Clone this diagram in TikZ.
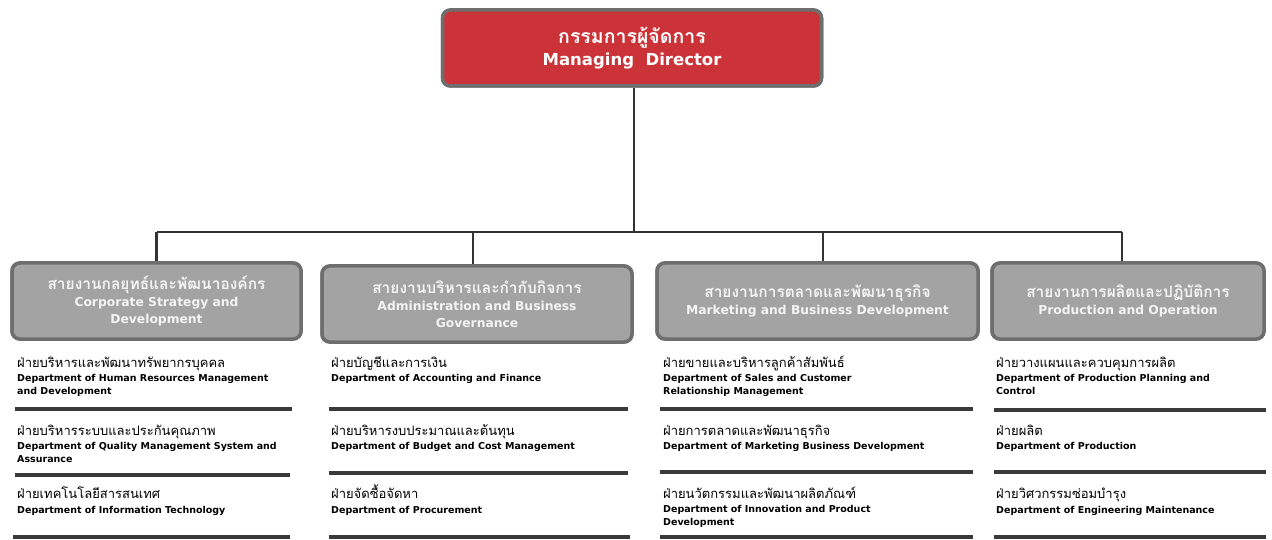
\documentclass[tikz,border=0pt]{standalone}
\usepackage{fontspec}
\setmainfont{DejaVu Sans}
\newfontfamily\eng{DejaVu Sans}
\newfontfamily\thai[Script=Thai]{Loma}
\definecolor{mdred}{HTML}{CC3338}
\definecolor{boxborder}{HTML}{6E6E6E}
\definecolor{grpfill}{HTML}{A3A3A3}
\definecolor{grptext}{HTML}{F4F4F4}
\definecolor{linecol}{HTML}{333333}
\definecolor{sepcol}{HTML}{3A3A3A}
\newcommand{\grpthai}{\thai\bfseries\fontsize{15.5}{17}\selectfont}
\tikzset{
  box/.style={draw=boxborder, line width=3.5pt, rounded corners=8pt, inner sep=0pt, align=center},
  mdbox/.style={box, fill=mdred, text=white, minimum width=379pt, minimum height=76pt, font=\eng\bfseries\fontsize{16.5}{22}\selectfont},
  grp/.style={box, fill=grpfill, text=grptext, minimum height=76pt, font=\eng\bfseries\fontsize{12.3}{17}\selectfont},
  conn/.style={draw=linecol, line width=2.5pt},
  sepline/.style={draw=sepcol, line width=4pt},
  thaidept/.style={anchor=base west, inner sep=0pt, text=black, font=\thai\fontsize{13}{14}\selectfont},
  engdept/.style={anchor=base west, inner sep=0pt, align=left, text=black, font=\eng\bfseries\fontsize{9.5}{13.5}\selectfont},
}
\begin{document}
\begin{tikzpicture}[x=1pt,y=-1pt]
\useasboundingbox (0,0) rectangle (1272,540);
\coordinate (bus) at (0,232);
\node[mdbox] (md) at (632,48) {};
\node[grp, minimum width=289pt] (g1) at (156.5,301) {};
\node[grp, minimum width=310pt] (g2) at (477,304) {};
\node[grp, minimum width=321pt] (g3) at (817.5,301) {};
\node[grp, minimum width=272pt] (g4) at (1128,301) {};
\draw[conn] ([xshift=2pt]md.south) -- ([xshift=2pt]md.south |- bus);
\draw[conn] ([xshift=0pt]g1.north |- bus) -- ([xshift=-6pt]g4.north |- bus);
\draw[conn] (g1.north) -- (g1.north |- bus);
\draw[conn] ([xshift=-4pt]g2.north) -- ([xshift=-4pt]g2.north |- bus);
\draw[conn] ([xshift=5.5pt]g3.north) -- ([xshift=5.5pt]g3.north |- bus);
\draw[conn] ([xshift=-6pt]g4.north) -- ([xshift=-6pt]g4.north |- bus);
\node[mdbox] (md) at (632,48) {\thai\bfseries\fontsize{19.5}{22}\selectfont กรรมการผู้จัดการ\\ Managing~~Director};
\node[grp, minimum width=289pt] (g1) at (156.5,301) {\grpthai สายงานกลยุทธ์และพัฒนาองค์กร\\ Corporate Strategy and\\ Development};
\node[grp, minimum width=310pt] (g2) at (477,304) {\grpthai สายงานบริหารและกำกับกิจการ\\ Administration and Business\\ Governance};
\node[grp, minimum width=321pt] (g3) at (817.5,301) {\grpthai สายงานการตลาดและพัฒนาธุรกิจ\\ Marketing and Business Development};
\node[grp, minimum width=272pt] (g4) at (1128,301) {\grpthai สายงานการผลิตและปฏิบัติการ\\ Production and Operation};
% column 1
\node[thaidept] (d11) at (17,367) {ฝ่ายบริหารและพัฒนาทรัพยากรบุคคล};
\node[engdept] (d11e) at (17,394.5) {Department of Human Resources Management\\and Development};
\draw[sepline] (15,409) -- (292,409);
\node[thaidept] (d12) at (17,435) {ฝ่ายบริหารระบบและประกันคุณภาพ};
\node[engdept] (d12e) at (17,462.5) {Department of Quality Management System and\\Assurance};
\draw[sepline] (15,475) -- (290,475);
\node[thaidept] (d13) at (17,498) {ฝ่ายเทคโนโลยีสารสนเทศ};
\node[engdept] (d13e) at (17,513) {Department of Information Technology};
\draw[sepline] (13,537) -- (290,537);
% column 2
\node[thaidept] (d21) at (331,367) {ฝ่ายบัญชีและการเงิน};
\node[engdept] (d21e) at (331,381) {Department of Accounting and Finance};
\draw[sepline] (329,409) -- (628,409);
\node[thaidept] (d22) at (331,435) {ฝ่ายบริหารงบประมาณและต้นทุน};
\node[engdept] (d22e) at (331,449) {Department of Budget and Cost Management};
\draw[sepline] (329,473) -- (628,473);
\node[thaidept] (d23) at (331,498) {ฝ่ายจัดซื้อจัดหา};
\node[engdept] (d23e) at (331,513) {Department of Procurement};
\draw[sepline] (329,537) -- (630,537);
% column 3
\node[thaidept] (d31) at (663,367) {ฝ่ายขายและบริหารลูกค้าสัมพันธ์};
\node[engdept] (d31e) at (663,394.5) {Department of Sales and Customer\\Relationship Management};
\draw[sepline] (660,409) -- (973,409);
\node[thaidept] (d32) at (663,435) {ฝ่ายการตลาดและพัฒนาธุรกิจ};
\node[engdept] (d32e) at (663,449) {Department of Marketing Business Development};
\draw[sepline] (660,472) -- (973,472);
\node[thaidept] (d33) at (663,498) {ฝ่ายนวัตกรรมและพัฒนาผลิตภัณฑ์};
\node[engdept] (d33e) at (663,525.5) {Department of Innovation and Product\\Development};
\draw[sepline] (660,537) -- (973,537);
% column 4
\node[thaidept] (d41) at (996,367) {ฝ่ายวางแผนและควบคุมการผลิต};
\node[engdept] (d41e) at (996,394.5) {Department of Production Planning and\\Control};
\draw[sepline] (994,410) -- (1266,410);
\node[thaidept] (d42) at (996,435) {ฝ่ายผลิต};
\node[engdept] (d42e) at (996,449) {Department of Production};
\draw[sepline] (994,472) -- (1266,472);
\node[thaidept] (d43) at (996,498) {ฝ่ายวิศวกรรมซ่อมบำรุง};
\node[engdept] (d43e) at (996,513) {Department of Engineering Maintenance};
\draw[sepline] (994,537) -- (1266,537);
\end{tikzpicture}
\end{document}
